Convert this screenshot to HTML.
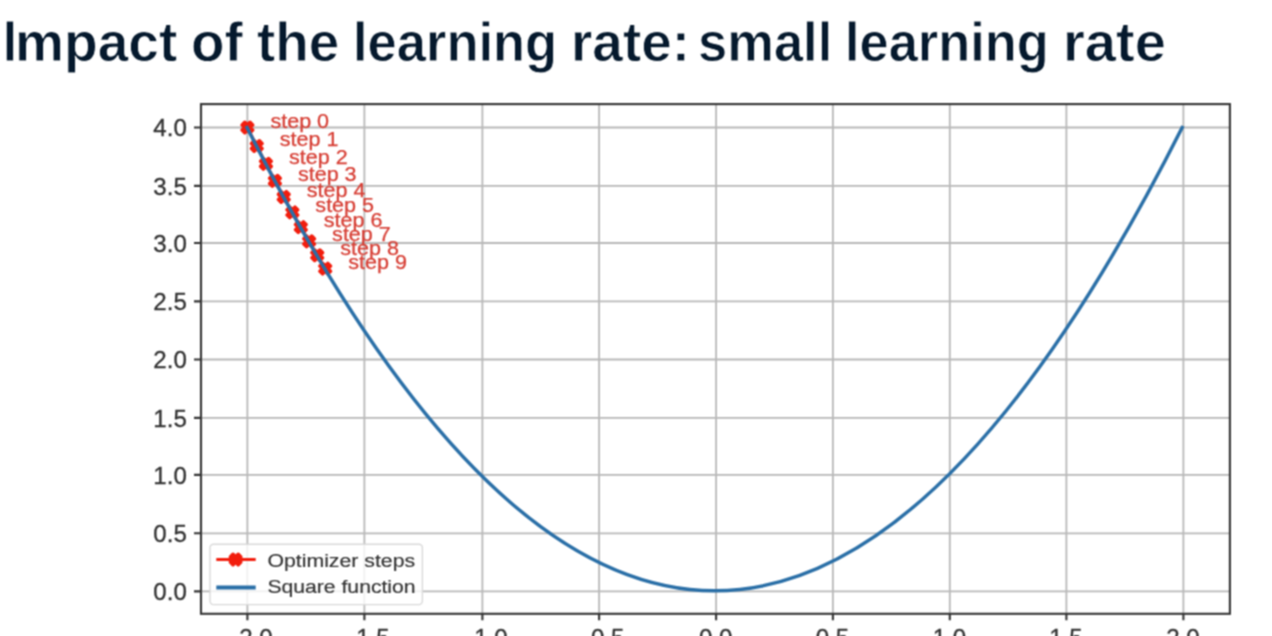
<!DOCTYPE html>
<html><head><meta charset="utf-8"><title>Impact of the learning rate: small learning rate</title>
<style>
html,body{margin:0;padding:0;background:#fff;width:1272px;height:636px;overflow:hidden;}
body{position:relative;font-family:"Liberation Sans",sans-serif;}
.title span{position:absolute;top:2px;font-family:"Liberation Sans",sans-serif;font-weight:700;font-size:55px;line-height:80px;color:#05192d;white-space:nowrap;transform-origin:0 0;-webkit-text-stroke:0.8px #fff;}
svg{position:absolute;left:0;top:0;}
.wrap{position:absolute;left:0;top:0;width:1272px;height:636px;filter:url(#bl);}
svg text{font-family:"Liberation Sans",sans-serif;}
</style></head>
<body>
<svg width="0" height="0" style="position:absolute"><filter id="bl" x="0" y="0" width="100%" height="100%" filterUnits="userSpaceOnUse" color-interpolation-filters="sRGB"><feConvolveMatrix order="3" kernelMatrix="1 2 1 2 4 2 1 2 1" divisor="16" edgeMode="duplicate"/></filter></svg>
<div class="wrap">
<div class="title"><span style="left:2.60px;top:1px;font-size:58px;transform:scaleX(0.85)">I</span><span style="left:14.89px;transform:scaleX(1.0019)">mpact</span><span style="left:191.21px;transform:scaleX(0.9958)">of</span><span style="left:257.01px;transform:scaleX(0.9949)">the</span><span style="left:352.78px;transform:scaleX(0.9544)">learning</span><span style="left:570.51px;transform:scaleX(0.9982)">rate:</span><span style="left:697.54px;transform:scaleX(0.9549)">small</span><span style="left:845.09px;transform:scaleX(0.9524)">learning</span><span style="left:1063.12px;transform:scaleX(1.0191)">rate</span></div>
<svg width="1272" height="636" viewBox="0 0 1272 636">
<path d="M247.40 104.10V613.80M364.40 104.10V613.80M482.40 104.10V613.80M599.10 104.10V613.80M716.10 104.10V613.80M832.90 104.10V613.80M949.80 104.10V613.80M1066.40 104.10V613.80M1183.40 104.10V613.80M201.00 591.40H1229.90M201.00 533.30H1229.90M201.00 474.90H1229.90M201.00 417.90H1229.90M201.00 359.50H1229.90M201.00 301.40H1229.90M201.00 243.00H1229.90M201.00 185.90H1229.90M201.00 127.50H1229.90" stroke="#b8b8b8" stroke-width="1.8" fill="none"/>
<polyline points="247.40,127.50 256.76,146.00 265.93,163.77 274.92,180.83 283.73,196.97 292.37,212.36 300.83,227.14 309.12,241.34 317.24,255.24 325.21,268.63" stroke="#f21d0d" stroke-width="3" fill="none"/>
<path d="M244.80 122.30L247.40 124.90L250.00 122.30L252.60 124.90L250.00 127.50L252.60 130.10L250.00 132.70L247.40 130.10L244.80 132.70L242.20 130.10L244.80 127.50L242.20 124.90ZM254.16 140.80L256.76 143.40L259.36 140.80L261.96 143.40L259.36 146.00L261.96 148.60L259.36 151.20L256.76 148.60L254.16 151.20L251.56 148.60L254.16 146.00L251.56 143.40ZM263.33 158.57L265.93 161.17L268.53 158.57L271.13 161.17L268.53 163.77L271.13 166.37L268.53 168.97L265.93 166.37L263.33 168.97L260.73 166.37L263.33 163.77L260.73 161.17ZM272.32 175.63L274.92 178.23L277.52 175.63L280.12 178.23L277.52 180.83L280.12 183.43L277.52 186.03L274.92 183.43L272.32 186.03L269.72 183.43L272.32 180.83L269.72 178.23ZM281.13 191.77L283.73 194.37L286.33 191.77L288.93 194.37L286.33 196.97L288.93 199.57L286.33 202.17L283.73 199.57L281.13 202.17L278.53 199.57L281.13 196.97L278.53 194.37ZM289.77 207.16L292.37 209.76L294.97 207.16L297.57 209.76L294.97 212.36L297.57 214.96L294.97 217.56L292.37 214.96L289.77 217.56L287.17 214.96L289.77 212.36L287.17 209.76ZM298.23 221.94L300.83 224.54L303.43 221.94L306.03 224.54L303.43 227.14L306.03 229.74L303.43 232.34L300.83 229.74L298.23 232.34L295.63 229.74L298.23 227.14L295.63 224.54ZM306.52 236.14L309.12 238.74L311.72 236.14L314.32 238.74L311.72 241.34L314.32 243.94L311.72 246.54L309.12 243.94L306.52 246.54L303.92 243.94L306.52 241.34L303.92 238.74ZM314.64 250.04L317.24 252.64L319.84 250.04L322.44 252.64L319.84 255.24L322.44 257.84L319.84 260.44L317.24 257.84L314.64 260.44L312.04 257.84L314.64 255.24L312.04 252.64ZM322.61 263.43L325.21 266.03L327.81 263.43L330.41 266.03L327.81 268.63L330.41 271.23L327.81 273.83L325.21 271.23L322.61 273.83L320.01 271.23L322.61 268.63L320.01 266.03Z" fill="#f21d0d" stroke="#f21d0d" stroke-width="3.6" stroke-linejoin="round"/>
<path d="M247.00 127.50Q714.60 1054.10 1182.20 127.50" stroke="#2a6fa7" stroke-width="3.5" fill="none" stroke-linecap="square"/>
<text x="270.40" y="127.50" fill="#d63c32" stroke="#d63c32" stroke-width="0.25" font-size="19.5" textLength="58.7" lengthAdjust="spacingAndGlyphs">step 0</text>
<text x="279.76" y="146.00" fill="#d63c32" stroke="#d63c32" stroke-width="0.25" font-size="19.5" textLength="58.7" lengthAdjust="spacingAndGlyphs">step 1</text>
<text x="288.93" y="163.77" fill="#d63c32" stroke="#d63c32" stroke-width="0.25" font-size="19.5" textLength="58.7" lengthAdjust="spacingAndGlyphs">step 2</text>
<text x="297.92" y="180.83" fill="#d63c32" stroke="#d63c32" stroke-width="0.25" font-size="19.5" textLength="58.7" lengthAdjust="spacingAndGlyphs">step 3</text>
<text x="306.73" y="196.97" fill="#d63c32" stroke="#d63c32" stroke-width="0.25" font-size="19.5" textLength="58.7" lengthAdjust="spacingAndGlyphs">step 4</text>
<text x="315.37" y="212.36" fill="#d63c32" stroke="#d63c32" stroke-width="0.25" font-size="19.5" textLength="58.7" lengthAdjust="spacingAndGlyphs">step 5</text>
<text x="323.83" y="227.14" fill="#d63c32" stroke="#d63c32" stroke-width="0.25" font-size="19.5" textLength="58.7" lengthAdjust="spacingAndGlyphs">step 6</text>
<text x="332.12" y="241.34" fill="#d63c32" stroke="#d63c32" stroke-width="0.25" font-size="19.5" textLength="58.7" lengthAdjust="spacingAndGlyphs">step 7</text>
<text x="340.24" y="255.24" fill="#d63c32" stroke="#d63c32" stroke-width="0.25" font-size="19.5" textLength="58.7" lengthAdjust="spacingAndGlyphs">step 8</text>
<text x="348.21" y="268.63" fill="#d63c32" stroke="#d63c32" stroke-width="0.25" font-size="19.5" textLength="58.7" lengthAdjust="spacingAndGlyphs">step 9</text>
<rect x="201.00" y="104.10" width="1028.90" height="509.70" fill="none" stroke="#333333" stroke-width="2.1"/>
<path d="M194.00 591.40H201.00M194.00 533.30H201.00M194.00 474.90H201.00M194.00 417.90H201.00M194.00 359.50H201.00M194.00 301.40H201.00M194.00 243.00H201.00M194.00 185.90H201.00M194.00 127.50H201.00M247.40 613.80V620.30M364.40 613.80V620.30M482.40 613.80V620.30M599.10 613.80V620.30M716.10 613.80V620.30M832.90 613.80V620.30M949.80 613.80V620.30M1066.40 613.80V620.30M1183.40 613.80V620.30" stroke="#333333" stroke-width="2.1" fill="none"/>
<text x="186.8" y="600.00" text-anchor="end" fill="#303030" stroke="#303030" stroke-width="0.3" font-size="24" textLength="33.5" lengthAdjust="spacingAndGlyphs">0.0</text>
<text x="186.8" y="541.90" text-anchor="end" fill="#303030" stroke="#303030" stroke-width="0.3" font-size="24" textLength="33.5" lengthAdjust="spacingAndGlyphs">0.5</text>
<text x="186.8" y="483.50" text-anchor="end" fill="#303030" stroke="#303030" stroke-width="0.3" font-size="24" textLength="33.5" lengthAdjust="spacingAndGlyphs">1.0</text>
<text x="186.8" y="426.50" text-anchor="end" fill="#303030" stroke="#303030" stroke-width="0.3" font-size="24" textLength="33.5" lengthAdjust="spacingAndGlyphs">1.5</text>
<text x="186.8" y="368.10" text-anchor="end" fill="#303030" stroke="#303030" stroke-width="0.3" font-size="24" textLength="33.5" lengthAdjust="spacingAndGlyphs">2.0</text>
<text x="186.8" y="310.00" text-anchor="end" fill="#303030" stroke="#303030" stroke-width="0.3" font-size="24" textLength="33.5" lengthAdjust="spacingAndGlyphs">2.5</text>
<text x="186.8" y="251.60" text-anchor="end" fill="#303030" stroke="#303030" stroke-width="0.3" font-size="24" textLength="33.5" lengthAdjust="spacingAndGlyphs">3.0</text>
<text x="186.8" y="194.50" text-anchor="end" fill="#303030" stroke="#303030" stroke-width="0.3" font-size="24" textLength="33.5" lengthAdjust="spacingAndGlyphs">3.5</text>
<text x="186.8" y="136.10" text-anchor="end" fill="#303030" stroke="#303030" stroke-width="0.3" font-size="24" textLength="33.5" lengthAdjust="spacingAndGlyphs">4.0</text>
<text x="256.00" y="645.8" text-anchor="middle" fill="#303030" stroke="#303030" stroke-width="0.3" font-size="24" textLength="33.5" lengthAdjust="spacingAndGlyphs">2.0</text>
<text x="373.00" y="645.8" text-anchor="middle" fill="#303030" stroke="#303030" stroke-width="0.3" font-size="24" textLength="33.5" lengthAdjust="spacingAndGlyphs">1.5</text>
<text x="491.00" y="645.8" text-anchor="middle" fill="#303030" stroke="#303030" stroke-width="0.3" font-size="24" textLength="33.5" lengthAdjust="spacingAndGlyphs">1.0</text>
<text x="607.70" y="645.8" text-anchor="middle" fill="#303030" stroke="#303030" stroke-width="0.3" font-size="24" textLength="33.5" lengthAdjust="spacingAndGlyphs">0.5</text>
<text x="715.70" y="645.8" text-anchor="middle" fill="#303030" stroke="#303030" stroke-width="0.3" font-size="24" textLength="33.5" lengthAdjust="spacingAndGlyphs">0.0</text>
<text x="832.50" y="645.8" text-anchor="middle" fill="#303030" stroke="#303030" stroke-width="0.3" font-size="24" textLength="33.5" lengthAdjust="spacingAndGlyphs">0.5</text>
<text x="949.40" y="645.8" text-anchor="middle" fill="#303030" stroke="#303030" stroke-width="0.3" font-size="24" textLength="33.5" lengthAdjust="spacingAndGlyphs">1.0</text>
<text x="1066.00" y="645.8" text-anchor="middle" fill="#303030" stroke="#303030" stroke-width="0.3" font-size="24" textLength="33.5" lengthAdjust="spacingAndGlyphs">1.5</text>
<text x="1183.00" y="645.8" text-anchor="middle" fill="#303030" stroke="#303030" stroke-width="0.3" font-size="24" textLength="33.5" lengthAdjust="spacingAndGlyphs">2.0</text>
<rect x="210" y="544.2" width="212.4" height="60.4" rx="3.5" fill="#fff" fill-opacity="0.8" stroke="#d9d9d9" stroke-width="1.4"/>
<path d="M216.3 559.5H255.7" stroke="#f21d0d" stroke-width="3.2"/>
<path d="M233.00 554.30L235.60 556.90L238.20 554.30L240.80 556.90L238.20 559.50L240.80 562.10L238.20 564.70L235.60 562.10L233.00 564.70L230.40 562.10L233.00 559.50L230.40 556.90Z" fill="#f21d0d" stroke="#f21d0d" stroke-width="3.6" stroke-linejoin="round"/>
<path d="M216.3 587.5H255.7" stroke="#2a6fa7" stroke-width="3.9"/>
<text x="267.4" y="566.7" fill="#303030" stroke="#303030" stroke-width="0.15" font-size="18" textLength="147.8" lengthAdjust="spacingAndGlyphs">Optimizer steps</text>
<text x="267.4" y="592.8" fill="#303030" stroke="#303030" stroke-width="0.15" font-size="18" textLength="148.2" lengthAdjust="spacingAndGlyphs">Square function</text>
</svg>
</div>
</body></html>
